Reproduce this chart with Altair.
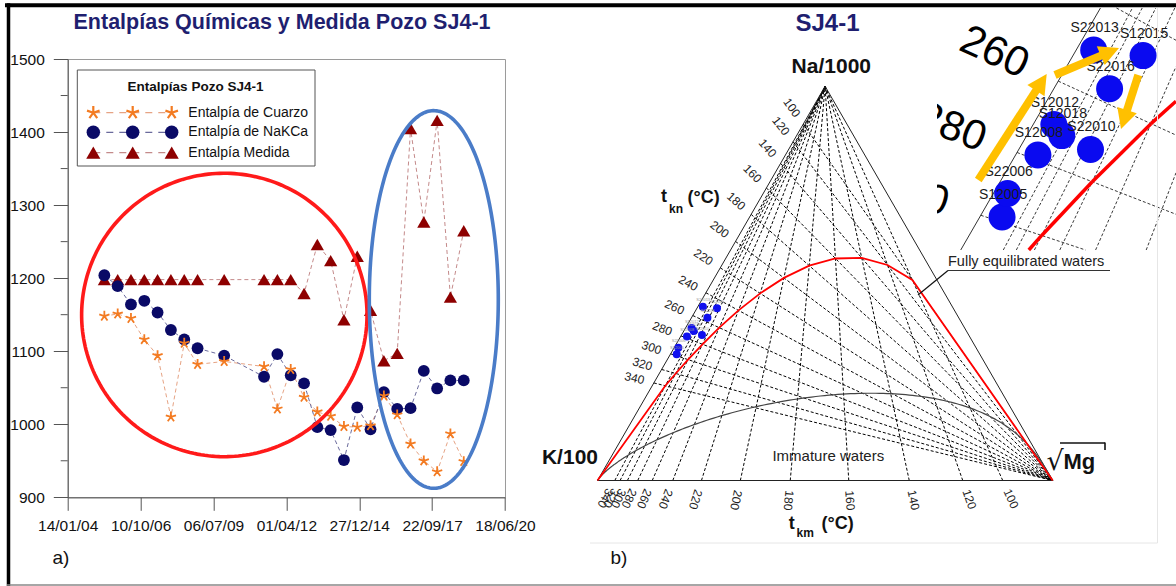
import math
import numpy as np
import pandas as pd
import altair as alt

# ---------------- left panel data (enthalpy, kJ/kg) ----------------
sample_dates = ["2005-05-31", "2005-11-30", "2006-05-31", "2006-11-30", "2007-05-31",
                "2007-11-30", "2008-05-31", "2008-11-30", "2009-11-30", "2011-05-31",
                "2011-11-30", "2012-05-31", "2012-11-30", "2013-05-31", "2013-11-30",
                "2014-05-31", "2014-11-30", "2015-05-31", "2015-11-30", "2016-05-31",
                "2016-11-30", "2017-05-31", "2017-11-30", "2018-05-31", "2018-11-30"]
h_cuarzo = [1148, 1151, 1145, 1116, 1094, 1010, 1111, 1082, 1086, 1079, 1021, 1075, 1037,
            1017, 1011, 997, 996, 998, 1039, 1013, 973, 950, 935, 987, 949]
h_nakca = [1204, 1189, 1164, 1169, 1153, 1129, 1116, 1104, 1094, 1065, 1096, 1067, 1056,
           996, 992, 951, 1023, 993, 1044, 1021, 1022, 1073, 1049, 1060, 1060]
h_medida = [1198, 1198, 1198, 1198, 1198, 1198, 1198, 1198, 1198, 1198, 1198, 1198, 1179,
            1246, 1224, 1143, 1230, 1156, 1087, 1097, 1405, 1277, 1416, 1174, 1265]

x_tick_dates = ["2004-01-14", "2006-10-10", "2009-07-06", "2012-04-01",
                "2014-12-27", "2017-09-22", "2020-06-18"]
y_ticks = [900, 1000, 1100, 1200, 1300, 1400, 1500]
y_minor = [950, 1050, 1150, 1250, 1350, 1450]

# highlight ellipses: centre date, centre value, half width (days), half height
ellipse_red = ("2009-12-02", 1149.6, 1958, 194.0)
ellipse_blue = ("2017-10-15", 1170.8, 885, 258.5)

# ---------------- right panel data (Giggenbach Na-K-Mg) ----------------
samples = ["S12005", "S22006", "S12008", "S22010", "S12012", "S22013", "S12015", "S22016", "S12018"]
na_pct = [32.0, 33.7, 36.5, 36.9, 38.7, 44.1, 43.7, 41.3, 37.9]   # % Na/1000
mg_pct = [1.4, 0.9, 1.4, 4.5, 1.3, 1.1, 4.4, 3.5, 2.2]           # % sqrt(Mg)
iso_temps = [100, 120, 140, 160, 180, 200, 220, 240, 260, 280, 300, 320, 340]

# ---------------- layout ----------------
FONT = "Liberation Sans"
OX, OY = 67.7, 59.0          # plot-area origin on the page
PW, PH = 437.3, 438.3        # plot-area size
FIG_W, FIG_H = 1176, 586
KX, KY, L = 597.5, 480.5, 455.2   # ternary: K corner (page px) and side length
S3 = math.sqrt(3) / 2
ONE = pd.DataFrame({"k": [0]})


def ms(d):
    return int(pd.Timestamp(d).value // 10**6)


# ================= LEFT PANEL =================
X_ENC = alt.X("date:T",
              scale=alt.Scale(type="utc", domain=[ms(x_tick_dates[0]), ms(x_tick_dates[-1])], nice=False),
              axis=alt.Axis(values=[ms(d) for d in x_tick_dates],
                            labelExpr="utcFormat(datum.value, '%d/%m/%y')",
                            title=None, grid=False, tickSize=13, tickColor="#555", domainColor="#555",
                            labelFont=FONT, labelFontSize=15.5, labelColor="#111", labelPadding=8,
                            labelFlush=False, labelOverlap=False, labelBound=False))
Y_ENC = alt.Y("value:Q", scale=alt.Scale(domain=[900, 1500], nice=False, zero=False),
              axis=alt.Axis(values=y_ticks, format="d", title=None, grid=False, tickSize=14.4,
                            tickColor="#555", domainColor="#555", labelFont=FONT, labelFontSize=15.5,
                            labelColor="#111", labelPadding=9, labelFlush=False, labelOverlap=False,
                            labelBound=False))

dms = [ms(d) for d in sample_dates]
df_c = pd.DataFrame({"date": dms, "value": h_cuarzo})
df_n = pd.DataFrame({"date": dms, "value": h_nakca})
df_m = pd.DataFrame({"date": dms, "value": h_medida})

STAR = "M0,0L0,-1M0,0L0.951,-0.309M0,0L-0.951,-0.309M0,0L0.588,0.809M0,0L-0.588,0.809"
C_STAR, C_CIRC, C_TRI = "#F37B22", "#0A0A66", "#8E0000"
L_STAR, L_CIRC, L_TRI = "#E6A384", "#6A6A9C", "#C48A8A"


def ellipse_df(e, n=240):
    c, cy, rxd, ry = e
    t = np.linspace(0, 2 * np.pi, n)
    return pd.DataFrame({"date": ms(c) + rxd * 86400000.0 * np.cos(t),
                         "value": cy + ry * np.sin(t), "o": np.arange(n)})


ts_layers = [
    alt.Chart(pd.DataFrame({"value": y_minor})).mark_rule(color="#555").encode(
        y=Y_ENC, x=alt.value(-7), x2=alt.value(0)),
    alt.Chart(df_m).mark_line(color=L_TRI, strokeWidth=1, strokeDash=[4, 3]).encode(x=X_ENC, y=Y_ENC),
    alt.Chart(df_c).mark_line(color=L_STAR, strokeWidth=1, strokeDash=[4, 3]).encode(x=X_ENC, y=Y_ENC),
    alt.Chart(df_n).mark_line(color=L_CIRC, strokeWidth=1, strokeDash=[4, 3]).encode(x=X_ENC, y=Y_ENC),
    alt.Chart(df_m).mark_point(shape="triangle-up", filled=True, size=175, color=C_TRI, opacity=1).encode(x=X_ENC, y=Y_ENC),
    alt.Chart(df_n).mark_point(shape="circle", filled=True, size=140, color=C_CIRC, opacity=1).encode(x=X_ENC, y=Y_ENC),
    alt.Chart(df_c).mark_point(shape=STAR, filled=False, size=115, strokeWidth=1.8, color=C_STAR, opacity=1).encode(x=X_ENC, y=Y_ENC),
    alt.Chart(ellipse_df(ellipse_red)).mark_line(color="#FF1A1A", strokeWidth=3.6).encode(x=X_ENC, y=Y_ENC, order="o:Q"),
    alt.Chart(ellipse_df(ellipse_blue)).mark_line(color="#4A7CC8", strokeWidth=3.6).encode(x=X_ENC, y=Y_ENC, order="o:Q"),
]
ts_group = alt.layer(*ts_layers)

# ================= RIGHT PANEL (ternary) =================
def to_unit(na, k, mg):
    s = na + k + mg
    return (mg / s + 0.5 * na / s, S3 * na / s)


def u2p(u):
    return (KX + L * u[0], KY - L * u[1])


def p2u(p):
    return ((p[0] - KX) / L, (KY - p[1]) / L)


def nak_ratio(T):
    return 10 ** (1390.0 / (T + 273.15) - 1.75)


def kmg_ratio(T):
    return 10 ** (14.0 - 4410.0 / (T + 273.15))


VK, VNA, VMG = (0.0, 0.0), (0.5, S3), (1.0, 0.0)
MG_P, NA_P = np.array(u2p(VMG)), np.array(u2p(VNA))

iso_lines, tkn_lab, tkm_lab = [], [], []
for T in iso_temps:
    E = to_unit(nak_ratio(T) / 1000.0, 0.01, 0.0)
    iso_lines.append([E, VMG])
    Ep = np.array(u2p(E))
    d = (Ep - MG_P) / np.linalg.norm(Ep - MG_P)
    lp = Ep + 20 * d
    tkn_lab.append((lp, str(T), math.degrees(math.atan2(-d[1], -d[0])) % 360))
    B = to_unit(0.0, math.sqrt(kmg_ratio(T)) / 100.0, 1.0)
    iso_lines.append([B, VNA])
    Bp = np.array(u2p(B))
    d2 = (Bp - NA_P) / np.linalg.norm(Bp - NA_P)
    lp2 = Bp + 20 * d2
    tkm_lab.append((lp2, str(T), math.degrees(math.atan2(d2[1], d2[0])) % 360))

full_eq = [VK]
for T in sorted(iso_temps, reverse=True):
    K = 1000.0 / nak_ratio(T)
    Mg = K * K / kmg_ratio(T)
    full_eq.append(to_unit(1.0, K / 100.0, math.sqrt(Mg)))
full_eq.append(VMG)

immature = [VK]
for K in np.geomspace(1e5, 0.02, 500):
    Mg = K * K / 10 ** ((2.0 - math.log10(1000.0 / K)) / 0.315)
    immature.append(to_unit(1.0, K / 100.0, math.sqrt(Mg)))
immature.append(VMG)

edges = [VK, VNA, VMG, VK]


def lines_df(polys):
    rows = []
    for i, pts in enumerate(polys):
        for j, (x, y) in enumerate(pts):
            rows.append({"id": i, "o": j, "X": x, "Y": y})
    return pd.DataFrame(rows)


TX = alt.Scale(domain=[0, 1], range=[KX - OX, KX - OX + L], nice=False, zero=False)
TY = alt.Scale(domain=[0, 1], range=[KY - OY, KY - OY - L], nice=False, zero=False)
TXE = alt.X("X:Q", scale=TX, axis=None)
TYE = alt.Y("Y:Q", scale=TY, axis=None)

# ---- inset (magnified view) ----
CI, CM, SC = np.array([1066.8, 129.7]), np.array([695.2, 329.4]), 3.5
RX0, RX1, RY0, RY1 = 937.0, 1176.0, 8.0, 250.0


def to_inset(u):
    return CI + SC * (np.array(u2p(u)) - CM)


def clip_seg(p, q):
    x0, y0 = p
    dx, dy = q[0] - x0, q[1] - y0
    t0, t1 = 0.0, 1.0
    for pp, qq in ((-dx, x0 - RX0), (dx, RX1 - x0), (-dy, y0 - RY0), (dy, RY1 - y0)):
        if pp == 0:
            if qq < 0:
                return None
        else:
            r = qq / pp
            if pp < 0:
                if r > t1:
                    return None
                t0 = max(t0, r)
            else:
                if r < t0:
                    return None
                t1 = min(t1, r)
    return [(x0 + t0 * dx, y0 + t0 * dy), (x0 + t1 * dx, y0 + t1 * dy)]


def inset_polys(polys):
    out = []
    for pts in polys:
        ip = [to_inset(u) for u in pts]
        for a, b in zip(ip[:-1], ip[1:]):
            c = clip_seg(a, b)
            if c:
                out.append([p2u(c[0]), p2u(c[1])])
    return out


samp_u = [(m / 100.0 + n / 200.0, S3 * n / 100.0) for n, m in zip(na_pct, mg_pct)]
samp_p = [np.array(u2p(u)) for u in samp_u]
samp_i = [to_inset(u) for u in samp_u]

big_lab = []
for lp, t, a in tkn_lab:
    li = CI + SC * (lp - CM)
    if 0 <= li[1] <= 240 and li[0] > 850:
        u = p2u(li)
        big_lab.append({"X": u[0], "Y": u[1], "t": t, "ang": a})

mask_u0, mask_u1 = p2u((862, 95)), p2u((937, 228))
df_mask = pd.DataFrame({"X": [mask_u0[0]], "X2": [mask_u1[0]], "Y": [mask_u0[1]], "Y2": [mask_u1[1]]})

arrows = [((978.3, 180.0), (1046.7, 74.0)), ((1055.0, 75.0), (1119.0, 48.0)), ((1138.3, 75.0), (1121.0, 129.0))]
shaft_rows, head_rows = [], []
for i, (s, tip) in enumerate(arrows):
    s, tip = np.array(s), np.array(tip)
    d = (tip - s) / np.linalg.norm(tip - s)
    end = tip - 15 * d
    for j, p in enumerate([s, end]):
        u = p2u(p)
        shaft_rows.append({"id": i, "o": j, "X": u[0], "Y": u[1]})
    c = p2u(tip - 12 * d)
    head_rows.append({"X": c[0], "Y": c[1], "ang": math.degrees(math.atan2(d[0], -d[1])) % 360})
HEAD = "M0,-1L0.85,0.65L-0.85,0.65Z"


def udf(points, texts=None, angs=None):
    rows = []
    for k, p in enumerate(points):
        u = p2u(p)
        r = {"X": u[0], "Y": u[1]}
        if texts is not None:
            r["t"] = texts[k]
        if angs is not None:
            r["ang"] = angs[k]
        rows.append(r)
    return pd.DataFrame(rows)


ANG = alt.Angle("ang:Q", scale=None)
imm_u = p2u((828.3, 456.0))

tern_layers = [
    alt.Chart(pd.DataFrame(big_lab)).mark_text(font=FONT, fontSize=42, color="#000").encode(
        x=TXE, y=TYE, text="t:N", angle=ANG),
    alt.Chart(df_mask).mark_rect(fill="white").encode(x=TXE, x2="X2:Q", y=TYE, y2="Y2:Q"),
    alt.Chart(pd.DataFrame({"X": [imm_u[0]], "Y": [imm_u[1]]})).mark_text(
        text="Immature waters", font=FONT, fontSize=15, color="#222").encode(x=TXE, y=TYE),
    alt.Chart(lines_df(iso_lines)).mark_line(color="#000", strokeWidth=1, strokeDash=[3, 2]).encode(
        x=TXE, y=TYE, detail="id:N", order="o:Q"),
    alt.Chart(lines_df([edges])).mark_line(color="#222", strokeWidth=1).encode(x=TXE, y=TYE, order="o:Q"),
    alt.Chart(lines_df([immature])).mark_line(color="#444", strokeWidth=1.2).encode(x=TXE, y=TYE, order="o:Q"),
    alt.Chart(lines_df([full_eq])).mark_line(color="#FF0000", strokeWidth=1.8).encode(x=TXE, y=TYE, order="o:Q"),
    alt.Chart(udf([l[0] for l in tkn_lab], [l[1] for l in tkn_lab], [l[2] for l in tkn_lab])).mark_text(
        font=FONT, fontSize=12, color="#222").encode(x=TXE, y=TYE, text="t:N", angle=ANG),
    alt.Chart(udf([l[0] for l in tkm_lab], [l[1] for l in tkm_lab], [l[2] for l in tkm_lab])).mark_text(
        font=FONT, fontSize=12, color="#222").encode(x=TXE, y=TYE, text="t:N", angle=ANG),
    alt.Chart(udf(samp_p)).mark_point(shape="circle", filled=True, size=64, color="#1010EE", opacity=1).encode(x=TXE, y=TYE),
    alt.Chart(udf([p + np.array([0.3, -6.3]) for p in samp_p], samples)).mark_text(
        font=FONT, fontSize=4, color="#999").encode(x=TXE, y=TYE, text="t:N"),
    # inset
    alt.Chart(lines_df(inset_polys(iso_lines))).mark_line(color="#222", strokeWidth=0.9, strokeDash=[3, 2]).encode(
        x=TXE, y=TYE, detail="id:N", order="o:Q"),
    alt.Chart(lines_df(inset_polys([edges]))).mark_line(color="#333", strokeWidth=1).encode(
        x=TXE, y=TYE, detail="id:N", order="o:Q"),
    alt.Chart(lines_df(inset_polys([full_eq]))).mark_line(color="#FF0000", strokeWidth=3.5).encode(
        x=TXE, y=TYE, detail="id:N", order="o:Q"),
    alt.Chart(udf(samp_i)).mark_point(shape="circle", filled=True, size=729, color="#0A0AF0", opacity=1).encode(x=TXE, y=TYE),
    alt.Chart(udf([p + np.array([1.0, -22.0]) for p in samp_i], samples)).mark_text(
        font=FONT, fontSize=14, color="#1a1a1a").encode(x=TXE, y=TYE, text="t:N"),
    alt.Chart(pd.DataFrame(shaft_rows)).mark_line(color="#FFC000", strokeWidth=8, strokeCap="butt").encode(
        x=TXE, y=TYE, detail="id:N", order="o:Q"),
    alt.Chart(pd.DataFrame(head_rows)).mark_point(shape=HEAD, filled=True, size=576, color="#FFC000", opacity=1).encode(
        x=TXE, y=TYE, angle=ANG),
]
tern_group = alt.layer(*tern_layers)


# ================= page annotations (pixel layout) =================
def ptext(s, x, y, size, weight="normal", color="#000", align="center", font=FONT):
    return alt.Chart(ONE).mark_text(text=s, fontSize=size, fontWeight=weight, color=color, align=align,
                                    baseline="middle", font=font).encode(
        x=alt.value(x - OX), y=alt.value(y - OY))


def prule(x1, y1, x2, y2, color, width, dash=None):
    kw = dict(color=color, strokeWidth=width)
    if dash:
        kw["strokeDash"] = dash
    return alt.Chart(ONE).mark_rule(**kw).encode(
        x=alt.value(x1 - OX), y=alt.value(y1 - OY), x2=alt.value(x2 - OX), y2=alt.value(y2 - OY))


PXE = alt.X("px:Q", scale=None, axis=None)
PYE = alt.Y("py:Q", scale=None, axis=None)
leg_mx = [93.3, 132.7, 171.7]


def leg_df(y):
    return pd.DataFrame({"px": [m - OX for m in leg_mx], "py": [y - OY] * 3})


NAVY = "#1F1F70"
pix_layers = [
    # figure frame
    prule(5, 5.3, FIG_W, 5.3, "#000", 4),
    prule(8.5, 3.3, 8.5, FIG_H, "#000", 3.5),
    prule(7, 585, FIG_W, 585, "#888", 1.5),
    prule(1157.5, 8, 1157.5, 543, "#e6e6e6", 1),
    prule(590, 543, 1157.5, 543, "#e6e6e6", 1),
    # titles
    ptext("Entalpías Químicas y Medida Pozo SJ4-1", 282, 22.5, 21.5, "bold", NAVY),
    ptext("SJ4-1", 827.5, 23.5, 24, "bold", NAVY),
    ptext("a)", 61, 558, 19, color="#111"),
    ptext("b)", 619, 558, 19, color="#111"),
    # legend
    alt.Chart(ONE).mark_rect(fill="white", stroke="#555", strokeWidth=1).encode(
        x=alt.value(77.3 - OX), x2=alt.value(315 - OX), y=alt.value(70 - OY), y2=alt.value(166 - OY)),
    ptext("Entalpías Pozo SJ4-1", 195.5, 87, 13.5, "bold", "#111"),
    prule(93.3, 112.7, 171.7, 112.7, L_STAR, 1.2, [7, 6]),
    prule(93.3, 132.3, 171.7, 132.3, L_CIRC, 1.2, [7, 6]),
    prule(93.3, 152.7, 171.7, 152.7, L_TRI, 1.2, [7, 6]),
    alt.Chart(leg_df(112.7)).mark_point(shape=STAR, filled=False, size=175, strokeWidth=2.2, color=C_STAR, opacity=1).encode(x=PXE, y=PYE),
    alt.Chart(leg_df(132.3)).mark_point(shape="circle", filled=True, size=180, color=C_CIRC, opacity=1).encode(x=PXE, y=PYE),
    alt.Chart(leg_df(152.7)).mark_point(shape="triangle-up", filled=True, size=200, color=C_TRI, opacity=1).encode(x=PXE, y=PYE),
    ptext("Entalpía de Cuarzo", 188.3, 112.7, 14, color="#111", align="left"),
    ptext("Entalpía de NaKCa", 188.3, 132.3, 14, color="#111", align="left"),
    ptext("Entalpía Medida", 188.3, 152.7, 14, color="#111", align="left"),
    # ternary labels
    ptext("Na/1000", 831.3, 67, 21, "bold", "#111"),
    ptext("K/100", 598, 457.5, 21, "bold", "#111", align="right"),
    ptext("\u221a", 1055, 462, 27, color="#111", font="DejaVu Sans"),
    ptext("Mg", 1063.5, 461.5, 22, "bold", "#111", align="left"),
    prule(1060, 443, 1105, 443, "#111", 1.6),
    prule(1105, 442.5, 1105, 450, "#111", 1.6),
    ptext("t", 664, 197, 18, "bold", "#111"),
    ptext("kn", 669, 209, 12, "bold", "#111", align="left"),
    ptext("(°C)", 687.5, 198, 18, "bold", "#111", align="left"),
    ptext("t", 791.7, 523.5, 18, "bold", "#111"),
    ptext("km", 796.5, 532.5, 12, "bold", "#111", align="left"),
    ptext("(°C)", 821.5, 523.5, 18, "bold", "#111", align="left"),
    ptext("Fully equilibrated waters", 948, 261.5, 14.5, color="#222", align="left"),
    prule(948, 270.5, 1110, 270.5, "#333", 1),
    prule(948, 270.5, 918, 295, "#111", 1.2),
]
pix_group = alt.layer(*pix_layers)

chart = alt.layer(ts_group, tern_group, pix_group).resolve_scale(
    x="independent", y="independent"
).properties(
    width=PW, height=PH,
    autosize=alt.AutoSizeParams(type="none"),
    padding={"left": OX, "top": OY, "right": FIG_W - OX - PW, "bottom": FIG_H - OY - PH},
    background="white",
).configure_view(stroke="#9a9a9a", strokeWidth=1)

chart.save("out.html", embed_options={"renderer": "svg", "actions": False})
